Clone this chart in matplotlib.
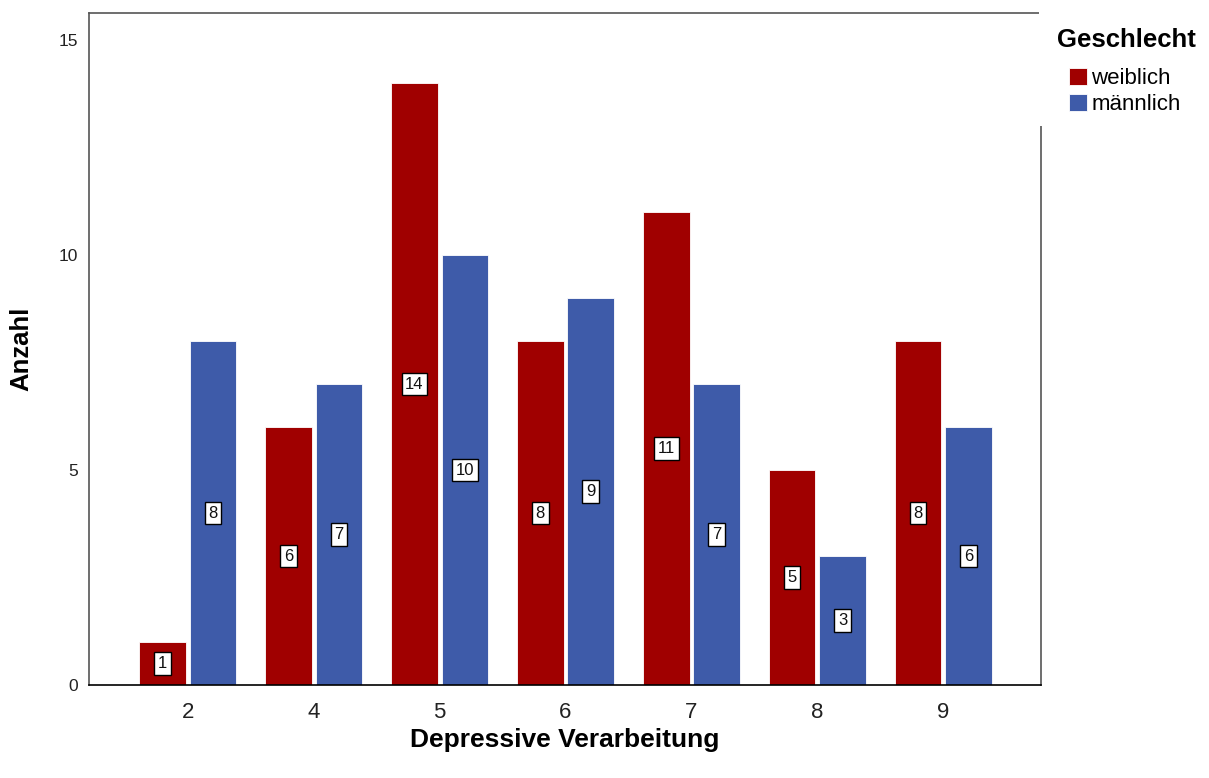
import numpy as np
import matplotlib
matplotlib.use('Agg')
import matplotlib.pyplot as plt
from matplotlib.patches import Rectangle

plt.rcParams['font.family'] = ['Liberation Sans', 'DejaVu Sans']

categories = ['2', '4', '5', '6', '7', '8', '9']
weiblich = [1, 6, 14, 8, 11, 5, 8]
maennlich = [8, 7, 10, 9, 7, 3, 6]
series_labels = ['weiblich', 'männlich']
colors = ['#a00000', '#3e5ba9']

fig = plt.figure(figsize=(12.09, 7.78), dpi=100)
ax = fig.add_axes([0.0736, 0.1195, 0.7875, 0.8638])

x = np.arange(len(categories))
width = 0.37
offset = 0.2
for vals, off, c, lab in zip([weiblich, maennlich], [-offset, offset], colors, series_labels):
    ax.bar(x + off, vals, width, color=c, edgecolor='white', linewidth=0.6, label=lab)
    for xi, v in zip(x + off, vals):
        ax.text(xi, v / 2, str(v), ha='center', va='center', fontsize=12, color='#111111',
                bbox=dict(boxstyle='square,pad=0.22', fc='white', ec='black', lw=1.0))

ax.set_xlim(-0.786, len(categories) - 1 + 0.778)
ax.set_ylim(0, 15.63)
ax.set_xticks(x)
ax.set_xticklabels(categories, fontsize=16, color='#222222')
ax.set_yticks([0, 5, 10, 15])
ax.tick_params(axis='both', length=0)
ax.tick_params(axis='x', pad=12)
ax.tick_params(axis='y', labelsize=12.5, pad=8, labelcolor='#222222')
for s in ax.spines.values():
    s.set_color('#555555')
    s.set_linewidth(1.2)
ax.spines['bottom'].set_color('black')

ax.set_xlabel('Depressive Verarbeitung', fontsize=19, fontweight='bold')
ax.xaxis.set_label_coords(0.5, -0.064)
ax.set_ylabel('Anzahl', fontsize=18.5, fontweight='bold')
ax.yaxis.set_label_coords(-0.058, 0.5)

# white legend area covering the top of the right frame
fig.add_artist(Rectangle((1039 / 1209, 1 - 126 / 778), 170 / 1209, 126 / 778,
                         transform=fig.transFigure, facecolor='white', edgecolor='none', zorder=5))
fig.text(1057 / 1209, 1 - 40 / 778, 'Geschlecht', fontsize=18.5, fontweight='bold',
         ha='left', va='center', zorder=6)
leg = fig.legend(loc='upper left', bbox_to_anchor=(1069 / 1209, 1 - 68 / 778),
                 frameon=False, fontsize=16, handlelength=0.8, handleheight=0.8,
                 handletextpad=0.2, labelspacing=0.22, borderpad=0, borderaxespad=0)
leg.set_zorder(6)

fig.savefig('out.png', dpi=100)
